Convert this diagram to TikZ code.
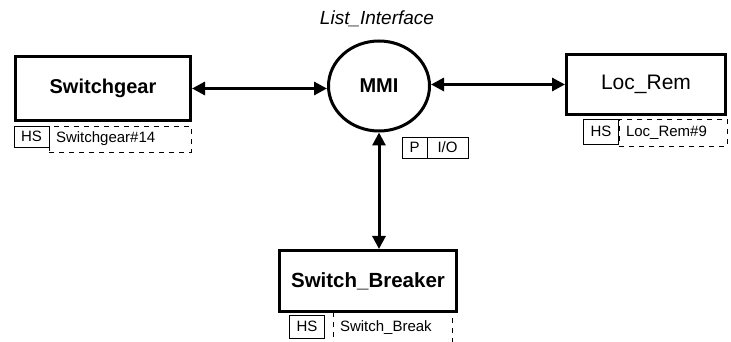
\documentclass[tikz,border=0pt]{standalone}
\usepackage{fontspec}
\setmainfont{Liberation Sans}
\usetikzlibrary{arrows.meta,shapes.geometric}
\tikzstyle{block}=[rectangle,draw=black,line width=3pt,font=\bfseries\fontsize{20}{22}\selectfont]
\tikzstyle{proc}=[ellipse,draw=black,line width=3pt,minimum width=101pt,minimum height=90pt,font=\bfseries\fontsize{20}{22}\selectfont]
\tikzstyle{tag}=[rectangle,draw=black,line width=0.8pt,inner sep=0pt,minimum width=35pt,minimum height=21pt,font=\fontsize{15}{17}\selectfont]
\tikzstyle{inst}=[rectangle,draw=black,line width=0.8pt,dash pattern=on 5pt off 5pt,inner xsep=7pt,inner ysep=0pt,align=left,font=\fontsize{15}{17}\selectfont]
\tikzstyle{link}=[{Triangle[length=13pt,width=13pt]}-{Triangle[length=13pt,width=13pt]},line width=3pt]

\begin{document}
\begin{tikzpicture}[x=1pt,y=1pt]
\useasboundingbox (0,0) rectangle (731,342);
\node[proc] (mmi) at (379,256) {MMI};
\node[font=\itshape\fontsize{19}{21}\selectfont] (mminame) at (377,323) {List\_Interface};
\node[tag,minimum width=25pt] (mmip) at (414.5,194.5) {P};
\node[tag,minimum width=41pt] (mmiio) at (447.5,194.5) {I/O};
% plant side boxes
\node[block,minimum width=175pt,minimum height=64pt] (sg) at (103,253.5) {Switchgear};
\node[block,minimum width=159pt,minimum height=60pt,font=\fontsize{21}{23}\selectfont] (lr) at (646,257.5) {Loc\_Rem};
\node[block,minimum width=177pt,minimum height=61pt,font=\bfseries\fontsize{20.5}{22}\selectfont] (sb) at (368,61) {Switch\_Breaker};
% HS tags and instance names
\node[tag] (sghs) at (31.5,205.5) {HS};
\node[inst,text width=128pt,minimum height=26pt] (sgid) at (120,203) {Switchgear\#14};
\node[tag,minimum height=25pt] (lrhs) at (601,210.5) {HS};
\node[inst,text width=94pt,minimum height=27pt] (lrid) at (673,209.5) {Loc\_Rem\#9};
\node[tag,minimum height=23pt] (sbhs) at (307,15.5) {HS};
\node[inst,text width=105pt,minimum height=32pt] (sbid) at (392.5,14) {Switch\_Break};
% links
\draw[link] (sg.east) -- (sg.east -| mmi.west);
\draw[link] (mmi.east |- lr.west) -- (lr.west);
\draw[link] (mmi.south) -- (mmi.south |- sb.north);
\end{tikzpicture}
\end{document}
